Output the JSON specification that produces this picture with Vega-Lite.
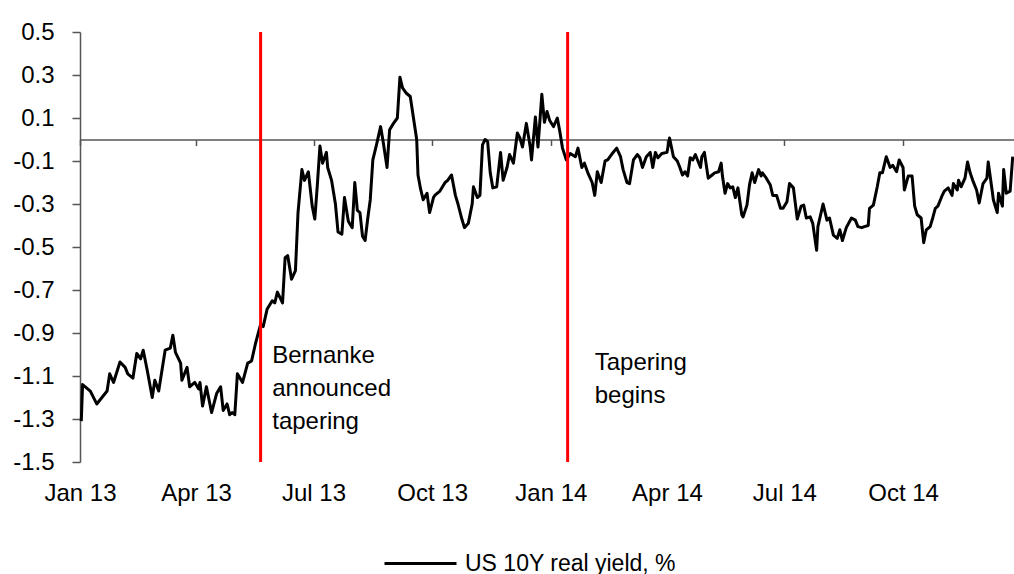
{
  "$schema": "https://vega.github.io/schema/vega-lite/v6.json",
  "width": 934,
  "height": 430,
  "autosize": {"type": "none"},
  "padding": {"left": 80, "top": 32, "right": 0, "bottom": 112},
  "background": "white",
  "config": {
    "view": {"stroke": null},
    "font": "Liberation Sans",
    "axis": {"labelFont": "Liberation Sans", "labelColor": "#000000", "grid": false},
    "legend": {"labelFont": "Liberation Sans"}
  },
  "datasets": {
    "yield": [
      {"d": "2013-01-02", "v": -1.31}, {"d": "2013-01-03", "v": -1.14}, {"d": "2013-01-09", "v": -1.17}, {"d": "2013-01-14", "v": -1.23},
      {"d": "2013-01-18", "v": -1.20}, {"d": "2013-01-22", "v": -1.17}, {"d": "2013-01-24", "v": -1.09}, {"d": "2013-01-27", "v": -1.13},
      {"d": "2013-02-01", "v": -1.035}, {"d": "2013-02-05", "v": -1.06}, {"d": "2013-02-07", "v": -1.09}, {"d": "2013-02-11", "v": -1.11},
      {"d": "2013-02-14", "v": -0.995}, {"d": "2013-02-17", "v": -1.02}, {"d": "2013-02-19", "v": -0.98}, {"d": "2013-02-22", "v": -1.07},
      {"d": "2013-02-26", "v": -1.20}, {"d": "2013-02-28", "v": -1.12}, {"d": "2013-03-03", "v": -1.17}, {"d": "2013-03-08", "v": -0.98},
      {"d": "2013-03-12", "v": -0.97}, {"d": "2013-03-14", "v": -0.91}, {"d": "2013-03-16", "v": -0.99}, {"d": "2013-03-20", "v": -1.04},
      {"d": "2013-03-21", "v": -1.12}, {"d": "2013-03-25", "v": -1.06}, {"d": "2013-03-27", "v": -1.15}, {"d": "2013-03-31", "v": -1.13},
      {"d": "2013-04-03", "v": -1.16}, {"d": "2013-04-04", "v": -1.13}, {"d": "2013-04-06", "v": -1.24}, {"d": "2013-04-09", "v": -1.15},
      {"d": "2013-04-13", "v": -1.27}, {"d": "2013-04-17", "v": -1.18}, {"d": "2013-04-20", "v": -1.15}, {"d": "2013-04-22", "v": -1.26},
      {"d": "2013-04-25", "v": -1.23}, {"d": "2013-04-27", "v": -1.28}, {"d": "2013-04-29", "v": -1.27}, {"d": "2013-05-01", "v": -1.28},
      {"d": "2013-05-03", "v": -1.09}, {"d": "2013-05-07", "v": -1.13}, {"d": "2013-05-11", "v": -1.04}, {"d": "2013-05-14", "v": -1.03},
      {"d": "2013-05-17", "v": -0.95}, {"d": "2013-05-21", "v": -0.86}, {"d": "2013-05-23", "v": -0.87}, {"d": "2013-05-26", "v": -0.79},
      {"d": "2013-05-30", "v": -0.75}, {"d": "2013-06-01", "v": -0.76}, {"d": "2013-06-03", "v": -0.71}, {"d": "2013-06-07", "v": -0.76},
      {"d": "2013-06-09", "v": -0.55}, {"d": "2013-06-11", "v": -0.54}, {"d": "2013-06-14", "v": -0.65}, {"d": "2013-06-17", "v": -0.61},
      {"d": "2013-06-19", "v": -0.34}, {"d": "2013-06-22", "v": -0.14}, {"d": "2013-06-24", "v": -0.19}, {"d": "2013-06-27", "v": -0.15},
      {"d": "2013-06-30", "v": -0.31}, {"d": "2013-07-02", "v": -0.37}, {"d": "2013-07-04", "v": -0.21}, {"d": "2013-07-06", "v": -0.03},
      {"d": "2013-07-08", "v": -0.11}, {"d": "2013-07-11", "v": -0.06}, {"d": "2013-07-12", "v": -0.13}, {"d": "2013-07-15", "v": -0.19},
      {"d": "2013-07-18", "v": -0.30}, {"d": "2013-07-20", "v": -0.43}, {"d": "2013-07-23", "v": -0.44}, {"d": "2013-07-25", "v": -0.27},
      {"d": "2013-07-28", "v": -0.38}, {"d": "2013-07-31", "v": -0.41}, {"d": "2013-08-02", "v": -0.20}, {"d": "2013-08-04", "v": -0.33},
      {"d": "2013-08-06", "v": -0.34}, {"d": "2013-08-08", "v": -0.45}, {"d": "2013-08-10", "v": -0.47}, {"d": "2013-08-12", "v": -0.37},
      {"d": "2013-08-14", "v": -0.28}, {"d": "2013-08-16", "v": -0.095}, {"d": "2013-08-19", "v": -0.02}, {"d": "2013-08-22", "v": 0.06},
      {"d": "2013-08-24", "v": -0.01}, {"d": "2013-08-27", "v": -0.13}, {"d": "2013-08-29", "v": 0.045}, {"d": "2013-09-01", "v": 0.075},
      {"d": "2013-09-04", "v": 0.10}, {"d": "2013-09-06", "v": 0.29}, {"d": "2013-09-08", "v": 0.24}, {"d": "2013-09-11", "v": 0.215},
      {"d": "2013-09-14", "v": 0.20}, {"d": "2013-09-16", "v": 0.12}, {"d": "2013-09-19", "v": 0.0}, {"d": "2013-09-20", "v": -0.165},
      {"d": "2013-09-22", "v": -0.23}, {"d": "2013-09-24", "v": -0.28}, {"d": "2013-09-27", "v": -0.25}, {"d": "2013-09-29", "v": -0.34},
      {"d": "2013-10-02", "v": -0.27}, {"d": "2013-10-03", "v": -0.26}, {"d": "2013-10-07", "v": -0.24}, {"d": "2013-10-11", "v": -0.20},
      {"d": "2013-10-13", "v": -0.19}, {"d": "2013-10-16", "v": -0.165}, {"d": "2013-10-19", "v": -0.26}, {"d": "2013-10-21", "v": -0.30},
      {"d": "2013-10-24", "v": -0.37}, {"d": "2013-10-26", "v": -0.41}, {"d": "2013-10-29", "v": -0.39}, {"d": "2013-11-01", "v": -0.30},
      {"d": "2013-11-02", "v": -0.22}, {"d": "2013-11-05", "v": -0.27}, {"d": "2013-11-07", "v": -0.26}, {"d": "2013-11-09", "v": -0.025},
      {"d": "2013-11-11", "v": 0.0}, {"d": "2013-11-13", "v": -0.01}, {"d": "2013-11-15", "v": -0.155}, {"d": "2013-11-17", "v": -0.225},
      {"d": "2013-11-20", "v": -0.22}, {"d": "2013-11-23", "v": -0.06}, {"d": "2013-11-25", "v": -0.19}, {"d": "2013-11-28", "v": -0.13},
      {"d": "2013-11-30", "v": -0.07}, {"d": "2013-12-03", "v": -0.11}, {"d": "2013-12-06", "v": 0.03}, {"d": "2013-12-08", "v": 0.007},
      {"d": "2013-12-10", "v": -0.035}, {"d": "2013-12-13", "v": 0.075}, {"d": "2013-12-16", "v": -0.035}, {"d": "2013-12-17", "v": -0.095},
      {"d": "2013-12-20", "v": 0.105}, {"d": "2013-12-22", "v": -0.035}, {"d": "2013-12-25", "v": 0.21}, {"d": "2013-12-27", "v": 0.08},
      {"d": "2013-12-29", "v": 0.13}, {"d": "2013-12-31", "v": 0.09}, {"d": "2014-01-03", "v": 0.06}, {"d": "2014-01-06", "v": 0.10},
      {"d": "2014-01-08", "v": 0.035}, {"d": "2014-01-10", "v": -0.04}, {"d": "2014-01-13", "v": -0.095}, {"d": "2014-01-16", "v": -0.065},
      {"d": "2014-01-20", "v": -0.08}, {"d": "2014-01-22", "v": -0.04}, {"d": "2014-01-25", "v": -0.13}, {"d": "2014-01-27", "v": -0.11},
      {"d": "2014-01-30", "v": -0.16}, {"d": "2014-02-02", "v": -0.20}, {"d": "2014-02-04", "v": -0.26}, {"d": "2014-02-06", "v": -0.15},
      {"d": "2014-02-09", "v": -0.20}, {"d": "2014-02-12", "v": -0.10}, {"d": "2014-02-14", "v": -0.095}, {"d": "2014-02-17", "v": -0.07},
      {"d": "2014-02-21", "v": -0.04}, {"d": "2014-02-24", "v": -0.08}, {"d": "2014-02-26", "v": -0.14}, {"d": "2014-03-01", "v": -0.20},
      {"d": "2014-03-03", "v": -0.205}, {"d": "2014-03-06", "v": -0.095}, {"d": "2014-03-09", "v": -0.07}, {"d": "2014-03-11", "v": -0.085},
      {"d": "2014-03-13", "v": -0.13}, {"d": "2014-03-16", "v": -0.08}, {"d": "2014-03-19", "v": -0.06}, {"d": "2014-03-21", "v": -0.13},
      {"d": "2014-03-23", "v": -0.06}, {"d": "2014-03-25", "v": -0.085}, {"d": "2014-03-28", "v": -0.065}, {"d": "2014-04-01", "v": -0.06},
      {"d": "2014-04-03", "v": 0.007}, {"d": "2014-04-06", "v": -0.08}, {"d": "2014-04-09", "v": -0.10}, {"d": "2014-04-11", "v": -0.13},
      {"d": "2014-04-13", "v": -0.165}, {"d": "2014-04-15", "v": -0.15}, {"d": "2014-04-17", "v": -0.17}, {"d": "2014-04-19", "v": -0.085},
      {"d": "2014-04-21", "v": -0.095}, {"d": "2014-04-23", "v": -0.07}, {"d": "2014-04-25", "v": -0.10}, {"d": "2014-04-27", "v": -0.13},
      {"d": "2014-04-28", "v": -0.08}, {"d": "2014-04-30", "v": -0.06}, {"d": "2014-05-03", "v": -0.18}, {"d": "2014-05-06", "v": -0.165},
      {"d": "2014-05-08", "v": -0.155}, {"d": "2014-05-11", "v": -0.15}, {"d": "2014-05-13", "v": -0.11}, {"d": "2014-05-14", "v": -0.17},
      {"d": "2014-05-16", "v": -0.25}, {"d": "2014-05-18", "v": -0.205}, {"d": "2014-05-20", "v": -0.225}, {"d": "2014-05-22", "v": -0.22},
      {"d": "2014-05-24", "v": -0.27}, {"d": "2014-05-26", "v": -0.225}, {"d": "2014-05-29", "v": -0.35}, {"d": "2014-05-30", "v": -0.36},
      {"d": "2014-06-02", "v": -0.305}, {"d": "2014-06-04", "v": -0.21}, {"d": "2014-06-06", "v": -0.155}, {"d": "2014-06-08", "v": -0.20},
      {"d": "2014-06-11", "v": -0.14}, {"d": "2014-06-13", "v": -0.17}, {"d": "2014-06-14", "v": -0.155}, {"d": "2014-06-17", "v": -0.18},
      {"d": "2014-06-20", "v": -0.21}, {"d": "2014-06-22", "v": -0.26}, {"d": "2014-06-25", "v": -0.26}, {"d": "2014-06-28", "v": -0.32},
      {"d": "2014-06-30", "v": -0.32}, {"d": "2014-07-03", "v": -0.29}, {"d": "2014-07-05", "v": -0.205}, {"d": "2014-07-08", "v": -0.225},
      {"d": "2014-07-11", "v": -0.37}, {"d": "2014-07-14", "v": -0.31}, {"d": "2014-07-16", "v": -0.305}, {"d": "2014-07-18", "v": -0.365},
      {"d": "2014-07-21", "v": -0.36}, {"d": "2014-07-23", "v": -0.39}, {"d": "2014-07-26", "v": -0.515}, {"d": "2014-07-27", "v": -0.405},
      {"d": "2014-07-31", "v": -0.30}, {"d": "2014-08-03", "v": -0.375}, {"d": "2014-08-05", "v": -0.365}, {"d": "2014-08-08", "v": -0.445},
      {"d": "2014-08-11", "v": -0.46}, {"d": "2014-08-13", "v": -0.42}, {"d": "2014-08-15", "v": -0.47}, {"d": "2014-08-18", "v": -0.41},
      {"d": "2014-08-22", "v": -0.365}, {"d": "2014-08-25", "v": -0.375}, {"d": "2014-08-27", "v": -0.405}, {"d": "2014-08-30", "v": -0.41},
      {"d": "2014-09-01", "v": -0.405}, {"d": "2014-09-04", "v": -0.40}, {"d": "2014-09-05", "v": -0.32}, {"d": "2014-09-08", "v": -0.305},
      {"d": "2014-09-11", "v": -0.22}, {"d": "2014-09-13", "v": -0.155}, {"d": "2014-09-15", "v": -0.155}, {"d": "2014-09-18", "v": -0.08},
      {"d": "2014-09-21", "v": -0.13}, {"d": "2014-09-23", "v": -0.12}, {"d": "2014-09-26", "v": -0.15}, {"d": "2014-09-28", "v": -0.095},
      {"d": "2014-10-01", "v": -0.13}, {"d": "2014-10-02", "v": -0.235}, {"d": "2014-10-05", "v": -0.17}, {"d": "2014-10-08", "v": -0.17},
      {"d": "2014-10-10", "v": -0.31}, {"d": "2014-10-12", "v": -0.35}, {"d": "2014-10-15", "v": -0.365}, {"d": "2014-10-17", "v": -0.48},
      {"d": "2014-10-19", "v": -0.42}, {"d": "2014-10-22", "v": -0.405}, {"d": "2014-10-24", "v": -0.365}, {"d": "2014-10-26", "v": -0.32},
      {"d": "2014-10-28", "v": -0.31}, {"d": "2014-10-31", "v": -0.265}, {"d": "2014-11-02", "v": -0.24}, {"d": "2014-11-05", "v": -0.225},
      {"d": "2014-11-08", "v": -0.26}, {"d": "2014-11-09", "v": -0.205}, {"d": "2014-11-12", "v": -0.235}, {"d": "2014-11-13", "v": -0.19},
      {"d": "2014-11-15", "v": -0.22}, {"d": "2014-11-18", "v": -0.18}, {"d": "2014-11-20", "v": -0.105}, {"d": "2014-11-22", "v": -0.155},
      {"d": "2014-11-24", "v": -0.19}, {"d": "2014-11-27", "v": -0.235}, {"d": "2014-11-29", "v": -0.295}, {"d": "2014-12-02", "v": -0.205},
      {"d": "2014-12-05", "v": -0.18}, {"d": "2014-12-06", "v": -0.105}, {"d": "2014-12-09", "v": -0.235}, {"d": "2014-12-10", "v": -0.28},
      {"d": "2014-12-13", "v": -0.34}, {"d": "2014-12-14", "v": -0.25}, {"d": "2014-12-17", "v": -0.31}, {"d": "2014-12-18", "v": -0.14},
      {"d": "2014-12-20", "v": -0.25}, {"d": "2014-12-23", "v": -0.24}, {"d": "2014-12-25", "v": -0.08}
    ],
    "events": [{"d": "2013-05-21"}, {"d": "2014-01-14"}],
    "notes": [
      {"d": "2013-05-30", "v": -1.04, "t": "Bernanke\nannounced\ntapering"},
      {"d": "2014-02-04", "v": -1.072, "t": "Tapering\nbegins"}
    ]
  },
  "layer": [
    {
      "data": {"name": "yield"},
      "mark": {"type": "line", "strokeWidth": 3, "strokeJoin": "round"},
      "encoding": {
        "x": {
          "field": "d", "type": "temporal", "title": null,
          "scale": {"type": "utc", "domain": [{"year": 2013, "month": 1, "date": 1, "utc": true}, {"year": 2014, "month": 12, "date": 26, "utc": true}]},
          "axis": {
            "values": [
              {"year": 2013, "month": 1, "date": 1, "utc": true}, {"year": 2013, "month": 4, "date": 1, "utc": true},
              {"year": 2013, "month": 7, "date": 1, "utc": true}, {"year": 2013, "month": 10, "date": 1, "utc": true},
              {"year": 2014, "month": 1, "date": 1, "utc": true}, {"year": 2014, "month": 4, "date": 1, "utc": true},
              {"year": 2014, "month": 7, "date": 1, "utc": true}, {"year": 2014, "month": 10, "date": 1, "utc": true}
            ],
            "format": "%b %y",
            "offset": -322.5,
            "domainColor": "#555555", "domainWidth": 1.5,
            "tickColor": "#555555", "tickWidth": 1.5, "tickSize": 6,
            "labelPadding": 336, "labelFontSize": 24, "labelFlush": false, "labelOverlap": false
          }
        },
        "y": {
          "field": "v", "type": "quantitative", "title": null,
          "scale": {"domain": [-1.5, 0.5], "nice": false, "zero": false},
          "axis": {
            "values": [-1.5, -1.3, -1.1, -0.9, -0.7, -0.5, -0.3, -0.1, 0.1, 0.3, 0.5],
            "labelExpr": "replace(format(datum.value, '.1f'), '\u2212', '-')",
            "domainColor": "#555555", "domainWidth": 1.5,
            "tickColor": "#555555", "tickWidth": 1.5, "tickSize": 8,
            "labelPadding": 18, "labelFontSize": 24
          }
        },
        "color": {
          "datum": "US 10Y real yield, %",
          "scale": {"range": ["#000000"]},
          "legend": {
            "orient": "none", "legendX": 303, "legendY": 494, "title": null,
            "symbolType": "stroke", "symbolSize": 5184, "symbolStrokeWidth": 3,
            "labelFontSize": 23, "labelColor": "#000000", "labelOffset": 7, "labelLimit": 0
          }
        }
      }
    },
    {
      "data": {"name": "events"},
      "mark": {"type": "rule", "color": "#ff0000", "strokeWidth": 3},
      "encoding": {"x": {"field": "d", "type": "temporal"}}
    },
    {
      "data": {"name": "notes"},
      "mark": {"type": "text", "align": "left", "baseline": "alphabetic", "lineBreak": "\n", "lineHeight": 33, "fontSize": 24, "font": "Liberation Sans", "color": "#000000"},
      "encoding": {
        "x": {"field": "d", "type": "temporal"},
        "y": {"field": "v", "type": "quantitative"},
        "text": {"field": "t"}
      }
    }
  ]
}
